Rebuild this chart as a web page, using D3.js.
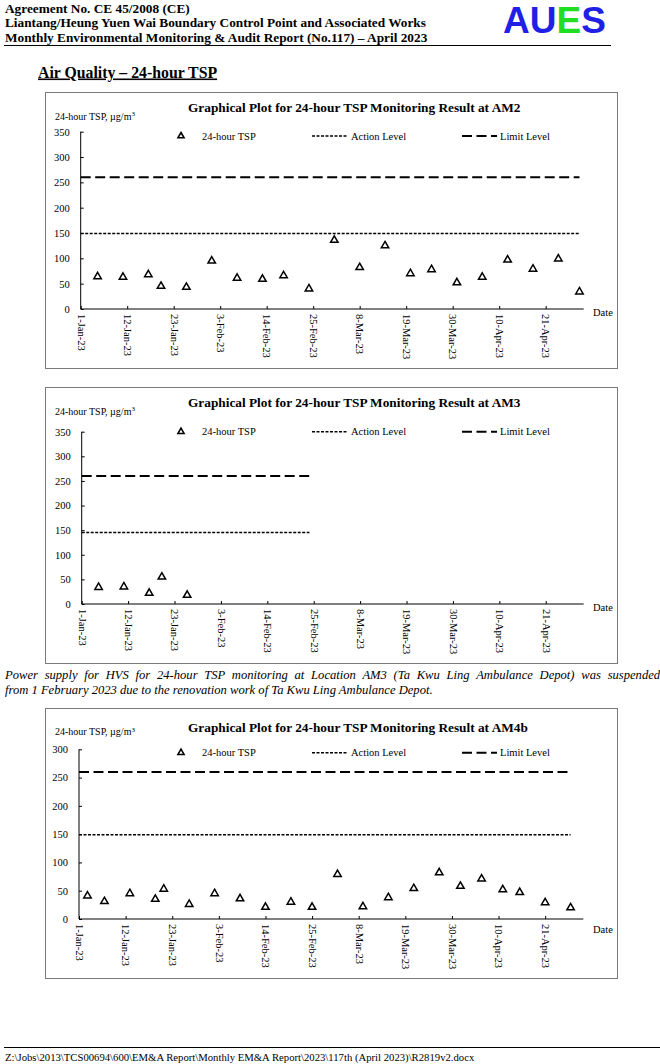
<!DOCTYPE html>
<html><head><meta charset="utf-8">
<script src="https://cdn.jsdelivr.net/npm/d3@7"></script>
<style>
html,body{margin:0;padding:0;background:#fff;}
svg{display:block;}
</style></head>
<body>
<script>
// ---- data ----
const tickLabels = ["1-Jan-23","12-Jan-23","23-Jan-23","3-Feb-23","14-Feb-23","25-Feb-23","8-Mar-23","19-Mar-23","30-Mar-23","10-Apr-23","21-Apr-23"];
const axisStart = "2023-01-01";
const axisEnd = "2023-04-30";

const am2Dates = ["2023-01-05","2023-01-11","2023-01-17","2023-01-20","2023-01-26","2023-02-01","2023-02-07","2023-02-13","2023-02-18","2023-02-24","2023-03-02","2023-03-08","2023-03-14","2023-03-20","2023-03-25","2023-03-31","2023-04-06","2023-04-12","2023-04-18","2023-04-24","2023-04-29"];
const am2Values = [64,63,68,45,43,95,61,59,66,40,136,82,125,70,78,52,63,97,79,99,34];
const am2Action = 149, am2Limit = 260, am2LevelEnd = "2023-04-29";

const am3Dates = ["2023-01-05","2023-01-11","2023-01-17","2023-01-20","2023-01-26"];
const am3Values = [34,35,22,55,18];
const am3Action = 145, am3Limit = 260, am3LevelEnd = "2023-02-24";

const am4bDates = ["2023-01-03","2023-01-07","2023-01-13","2023-01-19","2023-01-21","2023-01-27","2023-02-02","2023-02-08","2023-02-14","2023-02-20","2023-02-25","2023-03-03","2023-03-09","2023-03-15","2023-03-21","2023-03-27","2023-04-01","2023-04-06","2023-04-11","2023-04-15","2023-04-21","2023-04-27"];
const am4bValues = [41,31,45,35,53,26,45,36,21,30,21,79,22,38,54,82,58,71,52,47,29,20];
const am4bAction = 149, am4bLimit = 260, am4bLevelEnd = "2023-04-27";

const am2Ticks = [0,50,100,150,200,250,300,350];
const am3Ticks = [0,50,100,150,200,250,300,350];
const am4bTicks = [0,50,100,150,200,250,300];

// ---- drawing ----
const W = 660, H = 1064;
const serif = "'Liberation Serif','Times New Roman',serif";
const svg = d3.select("body").append("svg").attr("width", W).attr("height", H);
const parseISO = d3.timeParse("%Y-%m-%d");
const parseTick = d3.timeParse("%d-%b-%y");

// header
const hdr = svg.append("g").attr("font-family", serif).attr("font-weight", "bold").attr("font-size", 13.3).attr("fill", "#000");
hdr.append("text").attr("x", 5).attr("y", 13).text("Agreement No. CE 45/2008 (CE)");
hdr.append("text").attr("x", 5).attr("y", 27).text("Liantang/Heung Yuen Wai Boundary Control Point and Associated Works");
hdr.append("text").attr("x", 5).attr("y", 41.5).text("Monthly Environmental Monitoring & Audit Report (No.117) \u2013 April 2023");
svg.append("line").attr("x1", 4).attr("x2", 611).attr("y1", 45.5).attr("y2", 45.5).attr("stroke", "#000").attr("stroke-width", 1.2);
const logo = svg.append("text").attr("x", 503).attr("y", 33.3).attr("font-family", "'Liberation Sans',Arial,sans-serif")
  .attr("font-weight", "bold").attr("font-size", 37);
logo.append("tspan").attr("fill", "#1f1fe6").text("AU");
logo.append("tspan").attr("fill", "#22dd22").text("E");
logo.append("tspan").attr("fill", "#1f1fe6").text("S");

svg.append("text").attr("x", 38).attr("y", 77.5).attr("font-family", serif).attr("font-weight", "bold")
  .attr("font-size", 15.8).attr("text-decoration", "underline").text("Air Quality \u2013 24-hour TSP");

function drawChart(cfg) {
  const g = svg.append("g").attr("font-family", serif).attr("fill", "#000");
  g.append("rect").attr("x", cfg.box[0] + 0.5).attr("y", cfg.box[1] + 0.5).attr("width", cfg.box[2]).attr("height", cfg.box[3])
    .attr("fill", "none").attr("stroke", "#7a7a7a").attr("stroke-width", 1);

  const x = d3.scaleTime().domain([parseISO(axisStart), parseISO(axisEnd)]).range([cfg.x0, cfg.x1]);
  const y = d3.scaleLinear().domain([0, cfg.ymax]).range([cfg.y0, cfg.yTop]);

  // title
  g.append("text").attr("x", 188).attr("y", cfg.titleY).attr("dy", "0.35em").attr("font-weight", "bold")
    .attr("font-size", 13.3).text(cfg.title);
  // y label
  const yl = g.append("text").attr("x", 55).attr("y", cfg.ylabY).attr("dy", "0.35em").attr("font-size", 10);
  yl.append("tspan").text("24-hour TSP, \u00b5g/m");
  yl.append("tspan").attr("font-size", 7).attr("dy", "-0.5em").text("3");

  // y axis
  const yAxis = d3.axisLeft(y).tickValues(cfg.ticks).tickSize(-3).tickPadding(11).tickFormat(d3.format("d"));
  const ya = g.append("g").attr("transform", `translate(${cfg.x0},0)`).call(yAxis);
  ya.select(".domain").attr("stroke", "#000").attr("stroke-width", 1).attr("d", `M0,${cfg.y0}V${cfg.yTop}`);
  ya.selectAll(".tick line").attr("stroke", "#000");
  ya.selectAll(".tick text").attr("font-family", serif).attr("font-size", 10.5).attr("fill", "#000");

  // x axis
  const tickDates = tickLabels.map(parseTick);
  const xAxis = d3.axisBottom(x).tickValues(tickDates).tickSize(-3).tickFormat((d, i) => tickLabels[i]);
  const xa = g.append("g").attr("transform", `translate(0,${cfg.y0})`).call(xAxis);
  xa.select(".domain").attr("stroke", "#000").attr("stroke-width", 1).attr("d", `M${cfg.x0},0H${cfg.x1}`);
  xa.selectAll(".tick line").attr("stroke", "#000");
  xa.selectAll(".tick text").attr("font-family", serif).attr("font-size", 10.5).attr("fill", "#000")
    .attr("text-anchor", "start").attr("transform", "translate(0,5) rotate(90)").attr("x", 0).attr("y", 0).attr("dy", "0.35em");

  g.append("text").attr("x", 593).attr("y", cfg.dateY).attr("dy", "0.35em").attr("font-size", 10.5).text("Date");

  // level lines
  const lvlX = [parseISO(axisStart), parseISO(cfg.levelEnd)];
  const line = d3.line().x(d => x(d[0])).y(d => y(d[1]));
  g.append("path").attr("d", line(lvlX.map(d => [d, cfg.limit]))).attr("fill", "none").attr("stroke", "#000")
    .attr("stroke-width", 2).attr("stroke-dasharray", "10,4.5");
  g.append("path").attr("d", line(lvlX.map(d => [d, cfg.action]))).attr("fill", "none").attr("stroke", "#000")
    .attr("stroke-width", 1.5).attr("stroke-dasharray", "3,1.5");

  // points
  const tri = d3.symbol().type(d3.symbolTriangle).size(24);
  g.selectAll("path.pt").data(cfg.dates.map((d, i) => [parseISO(d), cfg.values[i]])).join("path")
    .attr("class", "pt").attr("d", tri).attr("transform", d => `translate(${x(d[0])},${y(d[1])})`)
    .attr("fill", "#fff").attr("stroke", "#000").attr("stroke-width", 1.5);

  // legend
  const ly = cfg.legendY;
  g.append("path").attr("d", d3.symbol().type(d3.symbolTriangle).size(16)).attr("transform", `translate(181,${ly})`)
    .attr("fill", "#fff").attr("stroke", "#000").attr("stroke-width", 1.6);
  g.append("text").attr("x", 202).attr("y", ly).attr("dy", "0.35em").attr("font-size", 10.5).text("24-hour TSP");
  g.append("line").attr("x1", 312).attr("x2", 348).attr("y1", ly).attr("y2", ly).attr("stroke", "#000")
    .attr("stroke-width", 1.5).attr("stroke-dasharray", "3,1.5");
  g.append("text").attr("x", 351).attr("y", ly).attr("dy", "0.35em").attr("font-size", 10.5).text("Action Level");
  g.append("line").attr("x1", 462).attr("x2", 497).attr("y1", ly).attr("y2", ly).attr("stroke", "#000")
    .attr("stroke-width", 2).attr("stroke-dasharray", "10,4.5");
  g.append("text").attr("x", 500).attr("y", ly).attr("dy", "0.35em").attr("font-size", 10.5).text("Limit Level");
}

drawChart({ box: [45, 92, 572, 276], x0: 80.7, x1: 583.7, y0: 309, yTop: 131.7, ymax: 350, ticks: am2Ticks,
  title: "Graphical Plot for 24-hour TSP Monitoring Result at AM2", titleY: 107.7, ylabY: 116, legendY: 136, dateY: 312,
  dates: am2Dates, values: am2Values, action: am2Action, limit: am2Limit, levelEnd: am2LevelEnd });

drawChart({ box: [45, 387, 572, 276], x0: 81.7, x1: 583.7, y0: 604, yTop: 431.7, ymax: 350, ticks: am3Ticks,
  title: "Graphical Plot for 24-hour TSP Monitoring Result at AM3", titleY: 402.7, ylabY: 411, legendY: 431.7, dateY: 607,
  dates: am3Dates, values: am3Values, action: am3Action, limit: am3Limit, levelEnd: am3LevelEnd });

const note = svg.append("g").attr("font-family", serif).attr("font-style", "italic").attr("font-size", 12.6);
note.append("text").attr("x", 5).attr("y", 679).attr("word-spacing", 3.6)
  .text("Power supply for HVS for 24-hour TSP monitoring at Location AM3 (Ta Kwu Ling Ambulance Depot) was suspended");
note.append("text").attr("x", 5).attr("y", 694).text("from 1 February 2023 due to the renovation work of Ta Kwu Ling Ambulance Depot.");

drawChart({ box: [45, 708, 572, 270], x0: 79, x1: 583.3, y0: 919, yTop: 749.3, ymax: 300, ticks: am4bTicks,
  title: "Graphical Plot for 24-hour TSP Monitoring Result at AM4b", titleY: 727.7, ylabY: 731.7, legendY: 752.7, dateY: 929,
  dates: am4bDates, values: am4bValues, action: am4bAction, limit: am4bLimit, levelEnd: am4bLevelEnd });

// footer
svg.append("line").attr("x1", 4).attr("x2", 660).attr("y1", 1047.5).attr("y2", 1047.5).attr("stroke", "#000").attr("stroke-width", 1);
svg.append("text").attr("x", 5).attr("y", 1060.5).attr("font-family", serif).attr("font-size", 10.7)
  .text("Z:\\Jobs\\2013\\TCS00694\\600\\EM&A Report\\Monthly EM&A Report\\2023\\117th (April 2023)\\R2819v2.docx");
</script>
</body></html>
